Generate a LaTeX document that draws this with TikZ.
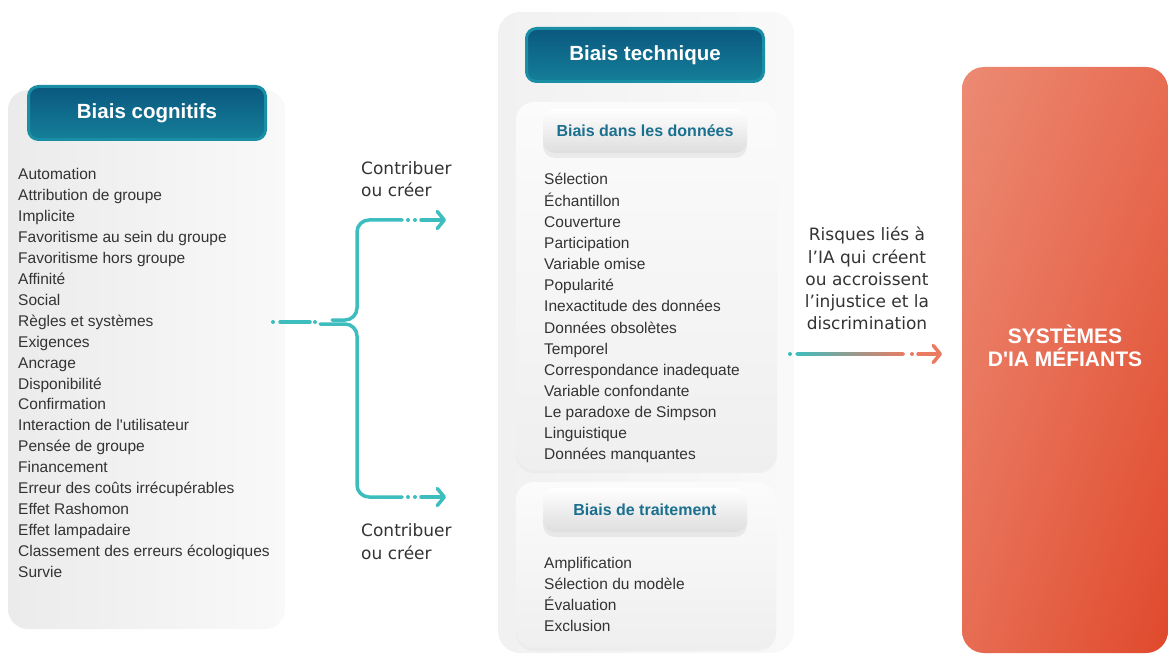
\documentclass[tikz,border=0pt]{standalone}
\usepackage{fontspec}
\setmainfont{Liberation Sans}
\newfontfamily\largefont{DejaVu Sans}
\usetikzlibrary{arrows.meta,shadows,shadings}

\definecolor{lien}{HTML}{3EBDBE}
\definecolor{corail}{HTML}{EA7A62}
\definecolor{bande}{HTML}{1A8EA4}
\definecolor{titreA}{HTML}{0A587F}
\definecolor{titreB}{HTML}{157F99}
\definecolor{entetetxt}{HTML}{1B6F8F}
\definecolor{texte}{HTML}{333333}
\definecolor{fondA}{HTML}{EBEBEB}
\definecolor{fondB}{HTML}{F9F9F9}
\definecolor{fondC}{HTML}{F1F1F1}
\definecolor{boiteA}{HTML}{FBFBFB}
\definecolor{boiteB}{HTML}{EFEFEF}
\definecolor{enteteB}{HTML}{DEDEDE}
\definecolor{rougeA}{HTML}{EC8A73}
\definecolor{rougeB}{HTML}{E76D53}
\definecolor{rougeC}{HTML}{E0492C}

\begin{document}
\begin{tikzpicture}[x=1pt, y=-1pt,
  titre/.style={rounded corners=10pt, draw=bande, line width=3pt, top color=titreA, bottom color=titreB,
    text=white, font=\bfseries\fontsize{20.5}{23}\selectfont, minimum width=237pt, minimum height=53pt, inner sep=0pt},
  entete/.style={rounded corners=12pt, top color=white, bottom color=enteteB, text=entetetxt,
    font=\bfseries\fontsize{16}{18}\selectfont, minimum width=204pt, minimum height=44pt, inner sep=0pt,
    drop shadow={opacity=0.12, shadow xshift=0pt, shadow yshift=-5pt}},
  boite/.style={rounded corners=18pt, top color=boiteA, bottom color=boiteB,
    drop shadow={opacity=0.06, shadow xshift=0pt, shadow yshift=-3pt}},
  item/.style={anchor=base west, inner sep=0pt, text=texte, font=\fontsize{15.5}{18}\selectfont},
  legende/.style={anchor=base west, inner sep=0pt, text=texte, align=left, font=\largefont\fontsize{17}{22.3}\selectfont},
  lien/.style={draw=lien, line width=3.5pt, line cap=round},
  fleche/.style={lien, -{Straight Barb[length=7pt, width=17pt, round]}},
  point/.style={circle, fill=lien, inner sep=0pt, minimum size=4pt}
]
\useasboundingbox (0,0) rectangle (1168,655);

\shade[rounded corners=20pt, left color=fondA, right color=fondB] (8,90) rectangle (285,629);
\shade[rounded corners=22pt, left color=fondC, right color=fondB] (498,12) rectangle (794,653);
\shade[boite] (516,102) rectangle (777,470);
\shade[boite] (516,482) rectangle (776,648);

\node[titre] (cognitifs) at (147,113) {Biais cognitifs};
\foreach \t [count=\i] in {Automation, Attribution de groupe, Implicite, Favoritisme au sein du groupe,
  Favoritisme hors groupe, Affinité, Social, Règles et systèmes, Exigences, Ancrage, Disponibilité,
  Confirmation, Interaction de l\textquotesingle utilisateur, Pensée de groupe, Financement,
  Erreur des coûts irrécupérables, Effet Rashomon, Effet lampadaire,
  Classement des erreurs écologiques, Survie}
  \node[item] (cog-\i) at (18,{180+20.9*(\i-1)}) {\t};

\node[titre] (technique) at (645,55) {Biais technique};
\node[entete] (donnees) at (645,131) {Biais dans les données};
\foreach \t [count=\i] in {Sélection, Échantillon, Couverture, Participation, Variable omise,
  Popularité, Inexactitude des données, Données obsolètes, Temporel, Correspondance inadequate,
  Variable confondante, Le paradoxe de Simpson, Linguistique, Données manquantes}
  \node[item] (don-\i) at (544,{185+21.15*(\i-1)}) {\t};

\node[entete] (traitement) at (645,510) {Biais de traitement};
\foreach \t [count=\i] in {Amplification, Sélection du modèle, Évaluation, Exclusion}
  \node[item] (trt-\i) at (544,{568+21.3*(\i-1)}) {\t};

\node[rounded corners=22pt, minimum width=206pt, minimum height=586pt, inner sep=0pt,
  upper left=rougeA, upper right=rougeB, lower left=rougeB, lower right=rougeC] (systemes) at (1065,360) {};
\node[text=white, align=center, font=\bfseries\fontsize{21}{23}\selectfont] (sys-txt) at (1065,346)
  {SYSTÈMES\\D\textquotesingle IA MÉFIANTS};

\node[legende] (contrib-haut) at (361,197) {Contribuer\\ou créer};
\node[legende] (contrib-bas) at (361,559) {Contribuer\\ou créer};
\node[legende, anchor=base, align=center] (risques) at (867,330)
  {Risques liés à\\l’IA qui créent\\ou accroissent\\l’injustice et la\\discrimination};

\coordinate (depart) at (273,322);
\coordinate (haut) at (446,220);
\coordinate (bas) at (446,497);
\node[point] at (depart) {};
\draw[lien] (280,322) -- (310,322);
\node[point] at (315,322) {};
\draw[lien, rounded corners=12pt] (332,320) -| (357,220) -- (402,220);
\draw[lien, rounded corners=12pt] (320,324) -| (357,497) -- (402,497);
\node[point] at (408,220) {};
\node[point] at (415,220) {};
\draw[fleche] (421,220) -- (haut);
\node[point] at (408,497) {};
\node[point] at (415,497) {};
\draw[fleche] (421,497) -- (bas);

\coordinate (r1) at (795,352.2);
\coordinate (r2) at (905,355.8);
\coordinate (cible) at (942,354);
\node[point] at (790,354) {};
\shade[left color=lien, right color=corail, rounded corners=1.8pt] (r1) rectangle (r2);
\node[point, fill=corail] at (912,354) {};
\draw[fleche, draw=corail] (918,354) -- (cible);
\end{tikzpicture}
\end{document}
